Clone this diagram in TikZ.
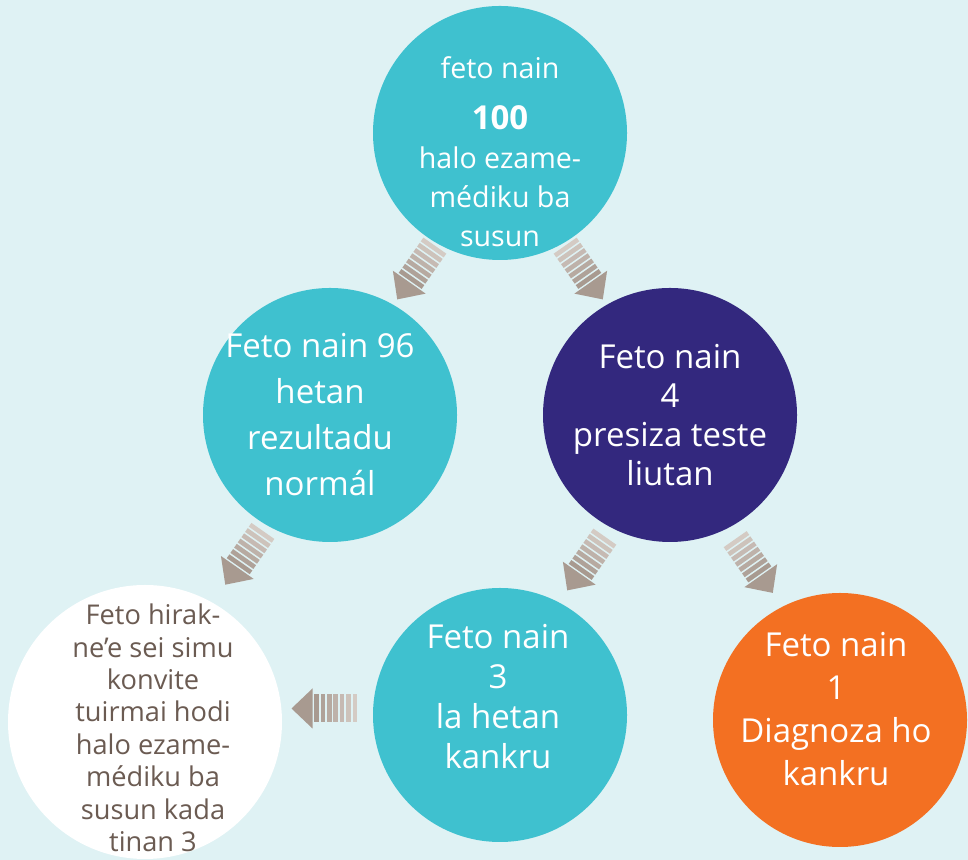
\documentclass[tikz,border=0pt]{standalone}
\usepackage{fontspec}
\setmainfont{Open Sans}
\usepackage{tikz}
\usetikzlibrary{calc}
\definecolor{bgblue}{HTML}{DFF2F4}
\definecolor{tealfill}{HTML}{3FC1CF}
\definecolor{navyfill}{HTML}{33287E}
\definecolor{orangefill}{HTML}{F37022}
\definecolor{browntext}{HTML}{6B5B52}
\definecolor{arrowdark}{HTML}{A89A90}
\definecolor{arrowlight}{HTML}{DDD4CE}
\newcommand*{\circlefont}[2]{\fontsize{#1}{#2}\selectfont}

\tikzset{
  stripearrow/.pic={
    \fill[arrowdark] (5pt,-10pt) -- (15.5pt,0pt) -- (5pt,10pt) -- cycle;
    \foreach \k in {0,...,6}
    {
      \pgfmathtruncatemacro{\mix}{100-\k*14}
      \fill[arrowdark!\mix!arrowlight] ({4.2pt-\k*3.2pt-2.3pt},-7pt) rectangle ({4.2pt-\k*3.2pt},7pt);
    }
  }
}

\begin{document}
\begin{tikzpicture}
        \fill[bgblue] (0,0) rectangle (484pt,430pt);
        \useasboundingbox (0,0) rectangle (484pt,430pt);

        {\tikzstyle{every node}=[circle, inner sep=0pt, minimum size=127pt]
          \node[fill=tealfill] (top) at (250pt,363.5pt) {};
          \node[fill=tealfill] (left) at (165pt,222.5pt) {};
          \node[fill=navyfill] (right) at (335pt,222.5pt) {};
          \node[fill=tealfill] (bm) at (250pt,72.5pt) {};
          \node[fill=orangefill] (orange) at (420pt,70pt) {};
          \node[fill=white, minimum size=137pt] (white) at (72.5pt,69pt) {};
        }

        {\tikzstyle{every node}=[align=center, text=white, inner sep=0pt]
          \node[font=\circlefont{14.3}{19.5}] (top-t) at (250pt,354pt)
            {feto nain\\[6pt]{\bfseries\circlefont{16.5}{19.5}100}\\halo ezame-\\médiku ba\\susun};
          \node[font=\circlefont{16.5}{23}] (left-t) at (160pt,222.5pt)
            {Feto nain 96\\hetan\\rezultadu\\normál};
          \node[font=\circlefont{16.5}{19.5}] (right-t) at (335pt,222.5pt)
            {Feto nain\\4\\presiza teste\\liutan};
          \node[font=\circlefont{16.5}{20}] (bm-t) at (249pt,81.5pt)
            {Feto nain\\3\\la hetan\\kankru};
          \node[font=\circlefont{16.5}{21.5}] (orange-t) at (418pt,75.5pt)
            {Feto nain\\1\\Diagnoza ho\\kankru};
          \node[font=\circlefont{13.6}{16.2}, text=browntext] (white-t) at (76.5pt,66pt)
            {Feto hirak-\\ne’e sei simu\\konvite\\tuirmai hodi\\halo ezame-\\médiku ba\\susun kada\\tinan 3};
        }

        \pic[rotate=-125] at ($(top)!0.5!(left)$) {stripearrow};
        \pic[rotate=-55] at ($(top)!0.5!(right)$) {stripearrow};
        \pic[rotate=-125] at ($(left)!0.47!(white)$) {stripearrow};
        \pic[rotate=-125] at ($(right)!0.5!(bm)$) {stripearrow};
        \pic[rotate=-55] at ($(right)!0.5!(orange)$) {stripearrow};
        \pic[rotate=180] at ($(bm)!0.5!(white)+(0,5pt)$) {stripearrow};
      \end{tikzpicture}
\end{document}
